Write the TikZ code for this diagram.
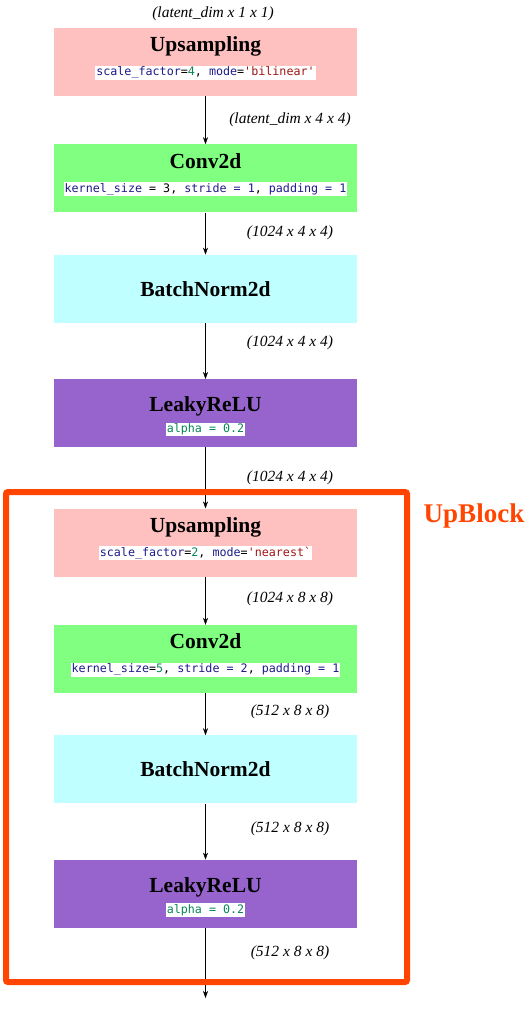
\documentclass[tikz,border=0pt]{standalone}
\usepackage{fontspec}
\setmainfont{Liberation Serif}
\setmonofont{DejaVu Sans Mono}
\usetikzlibrary{positioning,arrows.meta}
\definecolor{uppink}{HTML}{FFC0C0}
\definecolor{convgreen}{HTML}{80FF80}
\definecolor{bncyan}{HTML}{C0FFFF}
\definecolor{lrpurple}{HTML}{9664CC}
\definecolor{blockred}{HTML}{FF4500}
\definecolor{kwblue}{HTML}{1C1C8C}
\definecolor{numgreen}{HTML}{098658}
\definecolor{strred}{HTML}{A31515}
\newcommand\ckw[1]{\textcolor{kwblue}{#1}}
\newcommand\cnum[1]{\textcolor{numgreen}{#1}}
\newcommand\cstr[1]{\textcolor{strred}{#1}}
\newcommand\code[1]{{\setlength\fboxsep{1pt}\colorbox{white}{\fontsize{11.7}{13}\selectfont\ttfamily\mdseries #1}}}
% pads to move the text of a box up or down
\newcommand\downpad{\rule[-11pt]{0pt}{0pt}}
\newcommand\uppad{\rule{0pt}{21pt}}

\begin{document}
\begin{tikzpicture}[x=1pt, y=1pt, >={Stealth[length=7pt,width=5pt]},
	layer/.style={minimum width=303pt, minimum height=68pt, inner sep=0pt, align=center,
		font=\fontsize{21.5}{24}\selectfont\bfseries},
	dimlabel/.style={font=\fontsize{15.5}{18}\selectfont\itshape, inner sep=0pt}]
	\useasboundingbox (0,0) rectangle (532,-1036);
	% head of the generator
	\node[layer, fill=uppink] (up1) at (205.5,-62)
		{Upsampling\\\code{\ckw{scale\_factor}=\cnum{4}, \ckw{mode}=\cstr{'bilinear'}}\downpad};
	\node[layer, fill=convgreen, below=48pt of up1] (conv1)
		{Conv2d\\\code{\ckw{kernel\_size} = 3, \ckw{stride = 1}, \ckw{padding = 1}}\downpad};
	\node[layer, fill=bncyan, below=42pt of conv1] (bn1) {BatchNorm2d};
	\node[layer, fill=lrpurple, below=56pt of bn1] (lr1)
		{\uppad LeakyReLU\\[-3pt]\code{\cnum{alpha = 0.2}}};
	% the up block
	\node[layer, fill=uppink, below=61pt of lr1] (up2)
		{Upsampling\\\code{\ckw{scale\_factor}=\cnum{2}, \ckw{mode}=\cstr{'nearest`}}\downpad};
	\node[layer, fill=convgreen, below=48pt of up2] (conv2)
		{Conv2d\\\code{\ckw{kernel\_size}=\cnum{5}, \ckw{stride = 2}, \ckw{padding = 1}}\downpad};
	\node[layer, fill=bncyan, below=42pt of conv2] (bn2) {BatchNorm2d};
	\node[layer, fill=lrpurple, below=56pt of bn2] (lr2)
		{\uppad LeakyReLU\\[-3pt]\code{\cnum{alpha = 0.2}}};
	\coordinate (out) at (205.5,-998);

	\draw[->] (up1) -- (conv1);
	\draw[->] (conv1) -- (bn1);
	\draw[->] (bn1) -- (lr1);
	\draw[->] (lr1) -- (up2);
	\draw[->] (up2) -- (conv2);
	\draw[->] (conv2) -- (bn2);
	\draw[->] (bn2) -- (lr2);
	\draw[->] (lr2) -- (out);

	% tensor shapes
	\node[dimlabel] (s0) at (213,-14) {(latent\_dim x 1 x 1)};
	\foreach \y/\t [count=\i] in {120/latent\_dim x 4 x 4, 233/1024 x 4 x 4, 343/1024 x 4 x 4,
		478/1024 x 4 x 4, 599/1024 x 8 x 8, 712/512 x 8 x 8, 829/512 x 8 x 8, 953/512 x 8 x 8}
	\node[dimlabel] (s\i) at (290,-\y) {(\t)};

	\draw[blockred, line width=6pt, rounded corners=2pt] (6,-492) rectangle (407,-982);
	\node[text=blockred, font=\fontsize{27}{30}\selectfont\bfseries] (upblock) at (474,-516) {UpBlock};
\end{tikzpicture}
\end{document}
